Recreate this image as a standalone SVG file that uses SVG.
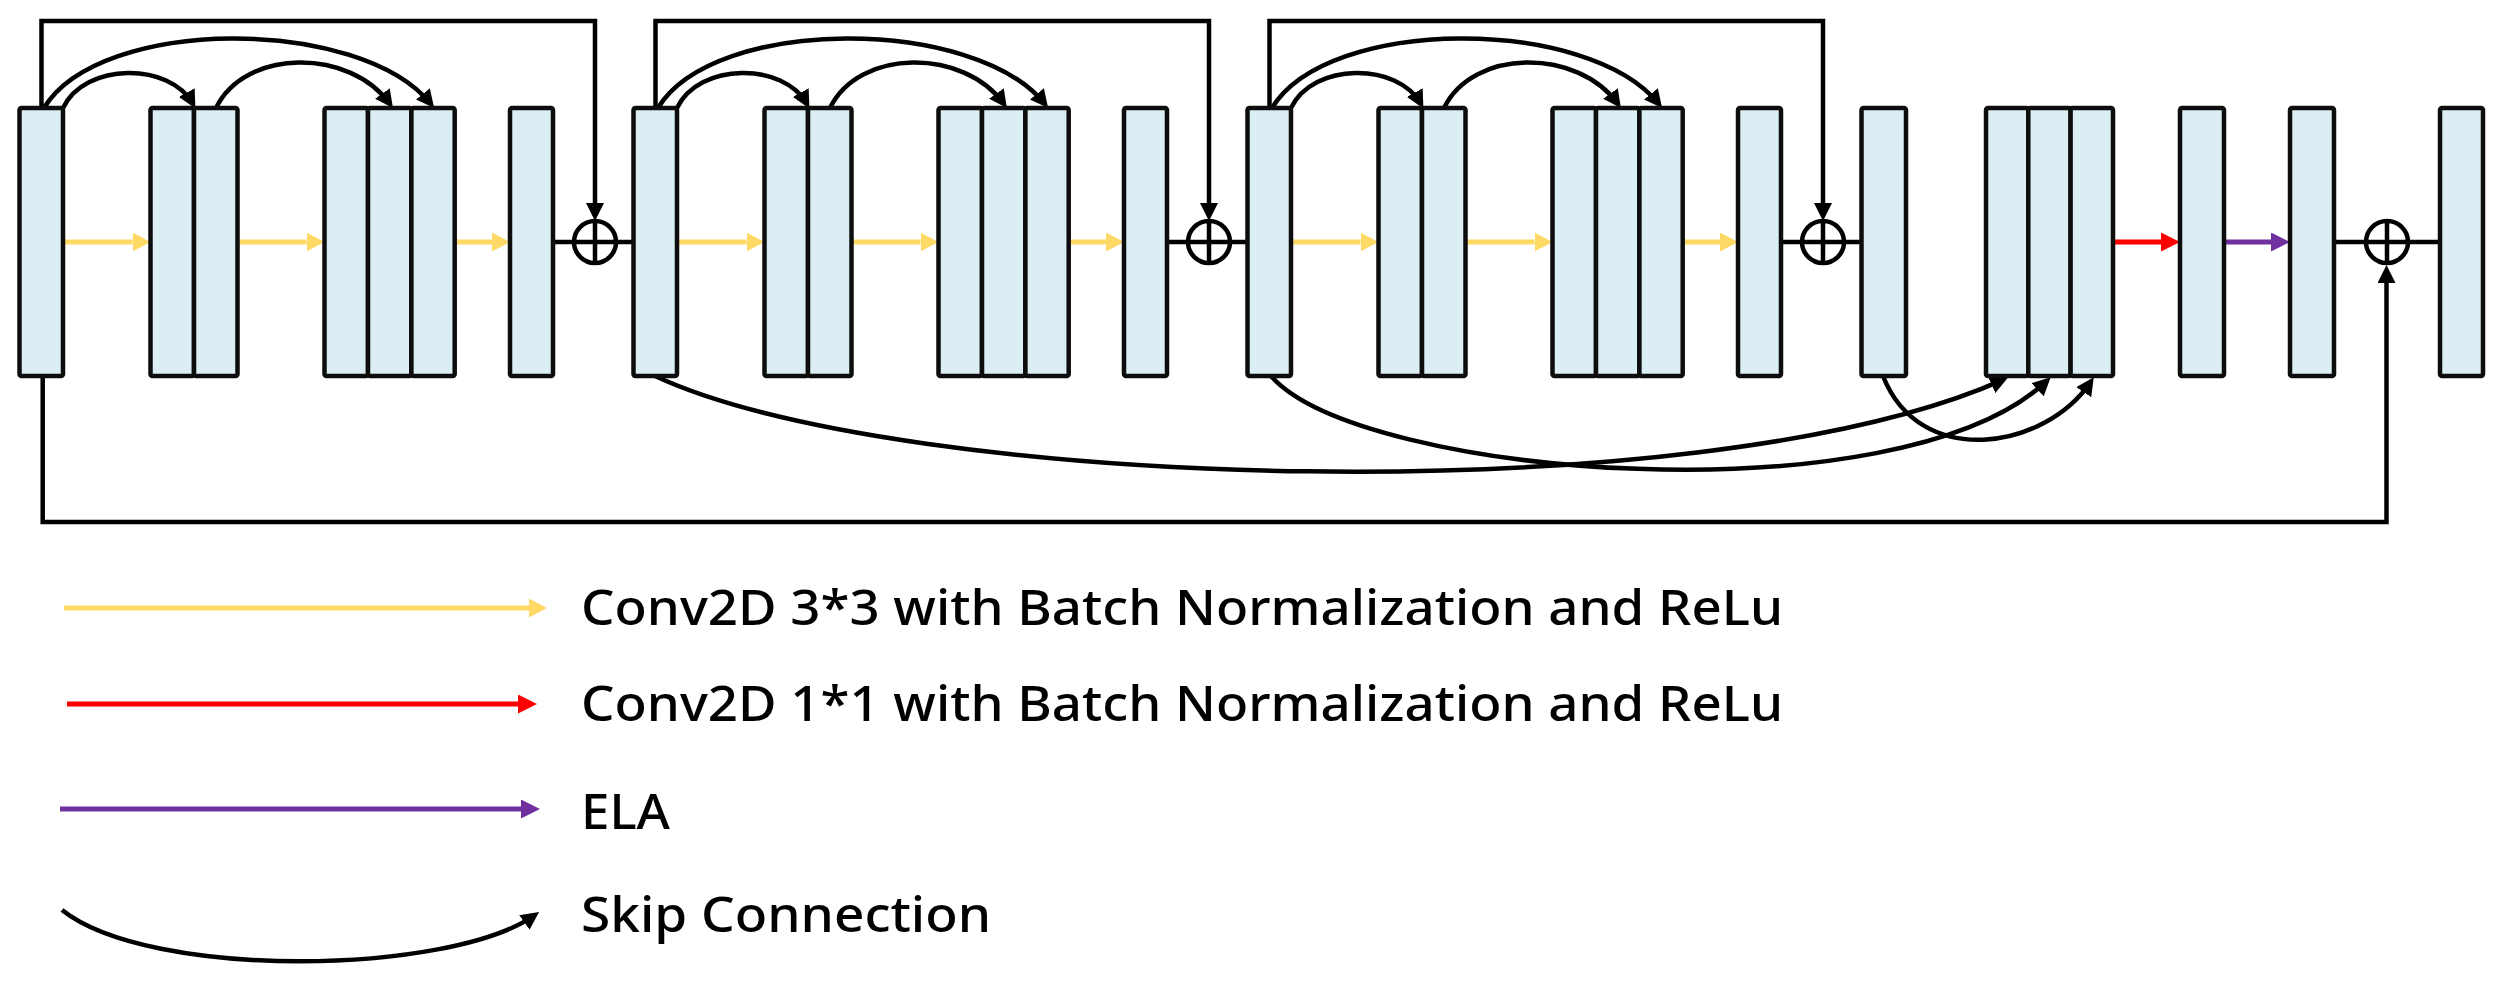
<svg xmlns="http://www.w3.org/2000/svg" width="2504" height="990" viewBox="0 0 2504 990">
<style>
.blk{fill:#DAEEF3;stroke:#0D0D0D;stroke-width:4.5;stroke-linejoin:round}
.ln{fill:none;stroke:#000;stroke-width:4.5}
.sk{fill:none;stroke:#000;stroke-width:4.5;marker-end:url(#aK)}
.sum{fill:none;stroke:#000;stroke-width:4.5}
.yl{stroke:#FFD966;stroke-width:5;marker-end:url(#aY)}
.rd{stroke:#FF0000;stroke-width:5;marker-end:url(#aR)}
.pp{stroke:#7030A0;stroke-width:5;marker-end:url(#aP)}
.tx{font-family:"Noto Sans","Noto Sans CJK SC",sans-serif;font-size:49px;font-weight:500;fill:#000}
</style>
<defs>
<marker id="aK" markerUnits="userSpaceOnUse" markerWidth="18" markerHeight="18" refX="13" refY="9" orient="auto" viewBox="0 0 18 18"><path d="M0,0 L18,9 L0,18 z" fill="#000"/></marker>
<marker id="aY" markerUnits="userSpaceOnUse" markerWidth="18" markerHeight="19" refX="0" refY="9.5" orient="auto" viewBox="0 0 18 19"><path d="M0,0 L18,9.5 L0,19 z" fill="#FFD966"/></marker>
<marker id="aR" markerUnits="userSpaceOnUse" markerWidth="19" markerHeight="19" refX="0" refY="9.5" orient="auto" viewBox="0 0 19 19"><path d="M0,0 L19,9.5 L0,19 z" fill="#FF0000"/></marker>
<marker id="aP" markerUnits="userSpaceOnUse" markerWidth="19" markerHeight="19" refX="0" refY="9.5" orient="auto" viewBox="0 0 19 19"><path d="M0,0 L19,9.5 L0,19 z" fill="#7030A0"/></marker>
</defs>
<rect width="2504" height="990" fill="#fff"/>

<g id="connectors">
<!-- stage 1 -->
<path class="ln" d="M41.5,108 V21 H595 V216" marker-end="url(#aK)"/>
<path class="sk" d="M63,108 C85,62 170,62 193,104"/>
<path class="sk" d="M44,108 C100,16 360,16 431,104"/>
<path class="sk" d="M216,108 C245,48 350,48 390,104"/>
<line class="yl" x1="63" y1="242" x2="132.5" y2="242"/>
<line class="yl" x1="237.5" y1="242" x2="306.5" y2="242"/>
<line class="yl" x1="454.7" y1="242" x2="492" y2="242"/>
<line class="ln" x1="553" y1="242" x2="633.5" y2="242"/>
<!-- stage 2 -->
<path class="ln" d="M655.5,108 V21 H1209 V216" marker-end="url(#aK)"/>
<path class="sk" d="M677,108 C699,62 784,62 807,104"/>
<path class="sk" d="M658,108 C714,16 974,16 1045,104"/>
<path class="sk" d="M830,108 C859,48 964,48 1004,104"/>
<line class="yl" x1="677" y1="242" x2="746.5" y2="242"/>
<line class="yl" x1="851.5" y1="242" x2="920.5" y2="242"/>
<line class="yl" x1="1068.7" y1="242" x2="1106" y2="242"/>
<line class="ln" x1="1167" y1="242" x2="1247.5" y2="242"/>
<!-- stage 3 -->
<path class="ln" d="M1269.5,108 V21 H1823 V216" marker-end="url(#aK)"/>
<path class="sk" d="M1291,108 C1313,62 1398,62 1421,104"/>
<path class="sk" d="M1272,108 C1328,16 1588,16 1659,104"/>
<path class="sk" d="M1444,108 C1473,48 1578,48 1618,104"/>
<line class="yl" x1="1291" y1="242" x2="1360.5" y2="242"/>
<line class="yl" x1="1465.5" y1="242" x2="1534.5" y2="242"/>
<line class="yl" x1="1682.7" y1="242" x2="1720" y2="242"/>
<line class="ln" x1="1781" y1="242" x2="1861.5" y2="242"/>
<!-- tail -->
<line class="rd" x1="2113" y1="242" x2="2161" y2="242"/>
<line class="pp" x1="2224" y1="242" x2="2271" y2="242"/>
<line class="ln" x1="2334" y1="242" x2="2440" y2="242"/>
<path class="ln" d="M42.7,376 V522 H2386.5 V270" marker-end="url(#aK)"/>
<!-- bottom concatenation skips -->
<path class="sk" d="M655,376 C900,490 1700,515 2003.5,379.6"/>
<path class="sk" d="M1271,376 C1360,478 1900,520 2047,380.8"/>
<path class="sk" d="M1883,376 C1920,470 2045,450 2091,381.4"/>
</g>

<g id="stage1-in"><rect class="blk" x="19.5" y="108" width="43.5" height="268" rx="2"/></g>
<g id="stage1-c1"><rect class="blk" x="150.5" y="108" width="43.5" height="268" rx="2"/><rect class="blk" x="194" y="108" width="43.5" height="268" rx="2"/></g>
<g id="stage1-c2"><rect class="blk" x="324.5" y="108" width="43.5" height="268" rx="2"/><rect class="blk" x="368" y="108" width="43.4" height="268" rx="2"/><rect class="blk" x="411.4" y="108" width="43.3" height="268" rx="2"/></g>
<g id="stage1-out"><rect class="blk" x="510" y="108" width="43" height="268" rx="2"/></g>
<g id="sum1"><circle class="sum" cx="595" cy="242" r="21"/><line class="ln" x1="595" y1="221" x2="595" y2="263"/></g>

<g id="stage2-in"><rect class="blk" x="633.5" y="108" width="43.5" height="268" rx="2"/></g>
<g id="stage2-c1"><rect class="blk" x="764.5" y="108" width="43.5" height="268" rx="2"/><rect class="blk" x="808" y="108" width="43.5" height="268" rx="2"/></g>
<g id="stage2-c2"><rect class="blk" x="938.5" y="108" width="43.5" height="268" rx="2"/><rect class="blk" x="982" y="108" width="43.4" height="268" rx="2"/><rect class="blk" x="1025.4" y="108" width="43.3" height="268" rx="2"/></g>
<g id="stage2-out"><rect class="blk" x="1124" y="108" width="43" height="268" rx="2"/></g>
<g id="sum2"><circle class="sum" cx="1209" cy="242" r="21"/><line class="ln" x1="1209" y1="221" x2="1209" y2="263"/></g>

<g id="stage3-in"><rect class="blk" x="1247.5" y="108" width="43.5" height="268" rx="2"/></g>
<g id="stage3-c1"><rect class="blk" x="1378.5" y="108" width="43.5" height="268" rx="2"/><rect class="blk" x="1422" y="108" width="43.5" height="268" rx="2"/></g>
<g id="stage3-c2"><rect class="blk" x="1552.5" y="108" width="43.5" height="268" rx="2"/><rect class="blk" x="1596" y="108" width="43.4" height="268" rx="2"/><rect class="blk" x="1639.4" y="108" width="43.3" height="268" rx="2"/></g>
<g id="stage3-out"><rect class="blk" x="1738" y="108" width="43" height="268" rx="2"/></g>
<g id="sum3"><circle class="sum" cx="1823" cy="242" r="21"/><line class="ln" x1="1823" y1="221" x2="1823" y2="263"/></g>

<g id="stage4-out"><rect class="blk" x="1861.5" y="108" width="44.5" height="268" rx="2"/></g>
<g id="concat"><rect class="blk" x="1986" y="108" width="42.3" height="268" rx="2"/><rect class="blk" x="2028.3" y="108" width="42.3" height="268" rx="2"/><rect class="blk" x="2070.6" y="108" width="42.4" height="268" rx="2"/></g>
<g id="conv1x1"><rect class="blk" x="2180" y="108" width="44" height="268" rx="2"/></g>
<g id="ela"><rect class="blk" x="2290" y="108" width="44" height="268" rx="2"/></g>
<g id="sum4"><circle class="sum" cx="2387" cy="242" r="21"/><line class="ln" x1="2387" y1="221" x2="2387" y2="263"/></g>
<g id="output"><rect class="blk" x="2440" y="108" width="43" height="268" rx="2"/></g>

<g id="legend">
<line class="yl" x1="64" y1="608" x2="529" y2="608"/>
<text class="tx" x="581" y="625" textLength="1202" lengthAdjust="spacingAndGlyphs">Conv2D 3*3 with Batch Normalization and ReLu</text>
<line class="rd" x1="67" y1="704" x2="518" y2="704"/>
<text class="tx" x="581" y="721" textLength="1202" lengthAdjust="spacingAndGlyphs">Conv2D 1*1 with Batch Normalization and ReLu</text>
<line class="pp" x1="60" y1="809" x2="521" y2="809"/>
<text class="tx" x="581" y="829" textLength="89" lengthAdjust="spacingAndGlyphs">ELA</text>
<path class="sk" d="M62,910 C150,980 450,975 535,915"/>
<text class="tx" x="581" y="932" textLength="410" lengthAdjust="spacingAndGlyphs">Skip Connection</text>
</g>
</svg>
